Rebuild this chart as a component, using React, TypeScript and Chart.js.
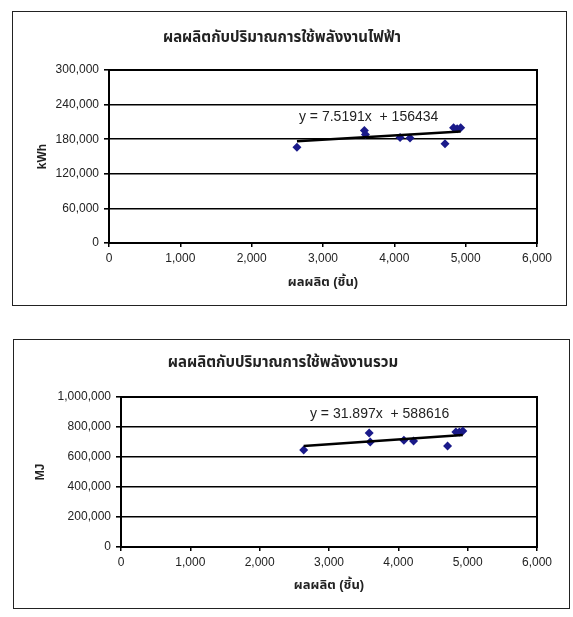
import React, { useEffect, useRef } from "react";
import { Chart, registerables } from "chart.js";

Chart.register(...registerables);

// ---- Data ----
const outputPieces = [2635, 3580, 3595, 4080, 4220, 4710, 4830, 4880, 4930];
const electricKWh = [166000, 195000, 188000, 183000, 182000, 172000, 200000, 198000, 200000];
const totalMJ = [647000, 760000, 700000, 712000, 707000, 673000, 767000, 767000, 773000];

const trendX = [2635, 4930];
const trendKWh = [176250, 193500];
const trendMJ = [672700, 745900];

const xTicks = [0, 1000, 2000, 3000, 4000, 5000, 6000];
const kwhTicks = [0, 60000, 120000, 180000, 240000, 300000];
const mjTicks = [0, 200000, 400000, 600000, 800000, 1000000];

const title1 = "ผลผลิตกับปริมาณการใช้พลังงานไฟฟ้า";
const title2 = "ผลผลิตกับปริมาณการใช้พลังงานรวม";
const xTitle = "ผลผลิต (ชิ้น)";
const eq1 = "y = 7.5191x  + 156434";
const eq2 = "y = 31.897x  + 588616";

const FONT = "'Liberation Sans', Arial, 'Noto Sans Thai', 'Noto Sans', sans-serif";
const TEXT = "#222";
const MARK = "#1a1a8a";

type Cfg = {
  left: number;
  top: number;
  width: number;
  height: number;
  title: string;
  titleX: number;
  titleY: number;
  yTitle: string;
  yValues: number[];
  trendY: number[];
  yTicks: number[];
  eq: string;
  eqX: number;
  eqY: number;
  yWidth: number;
  xHeight: number;
  padRight: number;
  padTop: number;
  yTitlePad: number;
};

const fmt = (v: number) => Number(v).toLocaleString("en-US");

function ScatterBox({ cfg }: { cfg: Cfg }) {
  const ref = useRef<HTMLCanvasElement | null>(null);
  useEffect(() => {
    if (!ref.current) return;
    const yMax = cfg.yTicks[cfg.yTicks.length - 1];
    const yStep = cfg.yTicks[1] - cfg.yTicks[0];
    const decor = {
      id: "decor",
      afterDraw(chart: any) {
        const { ctx, chartArea, scales } = chart;
        ctx.save();
        ctx.strokeStyle = "#000";
        ctx.lineWidth = 2;
        ctx.strokeRect(chartArea.left, chartArea.top, chartArea.right - chartArea.left, chartArea.bottom - chartArea.top);
        ctx.fillStyle = TEXT;
        ctx.textAlign = "center";
        ctx.textBaseline = "middle";
        ctx.font = `bold 15px ${FONT}`;
        ctx.fillText(cfg.title, cfg.titleX, cfg.titleY);
        ctx.font = `14px ${FONT}`;
        ctx.fillText(cfg.eq, scales.x.getPixelForValue(cfg.eqX), scales.y.getPixelForValue(cfg.eqY));
        ctx.restore();
      },
    };
    const chart = new Chart(ref.current, {
      type: "scatter",
      data: {
        datasets: [
          {
            data: outputPieces.map((x, i) => ({ x, y: cfg.yValues[i] })),
            pointStyle: "rectRot",
            pointRadius: 4.5,
            backgroundColor: MARK,
            borderColor: MARK,
            borderWidth: 0,
            showLine: false,
            order: 2,
          },
          {
            data: trendX.map((x, i) => ({ x, y: cfg.trendY[i] })),
            showLine: true,
            pointRadius: 0,
            borderColor: "#000",
            borderWidth: 2.5,
            order: 1,
          } as any,
        ],
      },
      options: {
        animation: false,
        responsive: false,
        events: [],
        layout: { padding: { top: cfg.padTop, right: cfg.padRight, left: 0, bottom: 0 } },
        plugins: { legend: { display: false }, tooltip: { enabled: false }, title: { display: false } },
        scales: {
          x: {
            type: "linear",
            min: 0,
            max: 6000,
            afterBuildTicks: (s: any) => {
              s.ticks = xTicks.map((v) => ({ value: v }));
            },
            afterFit: (s: any) => {
              s.height = cfg.xHeight;
            },
            ticks: { callback: (v: any) => fmt(v), color: TEXT, font: { family: FONT, size: 12 }, padding: 4, maxRotation: 0 },
            grid: { drawOnChartArea: false, drawTicks: true, tickLength: 4, color: "#000", lineWidth: 1.5 },
            border: { display: true, color: "#000", width: 2 },
            title: { display: true, text: xTitle, color: TEXT, font: { family: FONT, size: 13, weight: "bold" }, padding: { top: 0, bottom: 16 } },
          },
          y: {
            type: "linear",
            min: 0,
            max: yMax,
            ticks: { stepSize: yStep, callback: (v: any) => fmt(v), color: TEXT, font: { family: FONT, size: 12 }, padding: 5 },
            afterBuildTicks: (s: any) => {
              s.ticks = cfg.yTicks.map((v) => ({ value: v }));
            },
            afterFit: (s: any) => {
              s.width = cfg.yWidth;
            },
            grid: { color: "#000", lineWidth: 1.6, tickLength: 5 },
            border: { display: true, color: "#000", width: 2 },
            title: { display: true, text: cfg.yTitle, color: TEXT, font: { family: FONT, size: 12, weight: "bold" }, padding: { top: cfg.yTitlePad, bottom: 0 } },
          },
        },
      } as any,
      plugins: [decor],
    });
    return () => chart.destroy();
  }, [cfg]);
  return (
    <div style={{ position: "absolute", left: cfg.left, top: cfg.top, width: cfg.width, height: cfg.height }}>
      <canvas ref={ref} width={cfg.width} height={cfg.height} style={{ position: "absolute", left: 0, top: 0 }} />
      <div
        style={{
          position: "absolute",
          left: 0,
          top: 0,
          width: cfg.width,
          height: cfg.height,
          boxSizing: "border-box",
          border: "1.5px solid #222",
          pointerEvents: "none",
        }}
      />
    </div>
  );
}

const cfg1: Cfg = {
  left: 12,
  top: 11,
  width: 555,
  height: 295,
  title: title1,
  titleX: 270,
  titleY: 27,
  yTitle: "kWh",
  yValues: electricKWh,
  trendY: trendKWh,
  yTicks: kwhTicks,
  eq: eq1,
  eqX: 3640,
  eqY: 218500,
  yWidth: 97,
  xHeight: 63,
  padRight: 30,
  padTop: 59,
  yTitlePad: 23,
};

const cfg2: Cfg = {
  left: 13,
  top: 339,
  width: 557,
  height: 270,
  title: title2,
  titleX: 270,
  titleY: 24,
  yTitle: "MJ",
  yValues: totalMJ,
  trendY: trendMJ,
  yTicks: mjTicks,
  eq: eq2,
  eqX: 3730,
  eqY: 886700,
  yWidth: 108,
  xHeight: 62,
  padRight: 33,
  padTop: 58,
  yTitlePad: 20,
};

export default function App() {
  return (
    <div style={{ position: "absolute", left: 0, top: 0, width: 573, height: 617, background: "#fff" }}>
      <ScatterBox cfg={cfg1} />
      <ScatterBox cfg={cfg2} />
    </div>
  );
}
